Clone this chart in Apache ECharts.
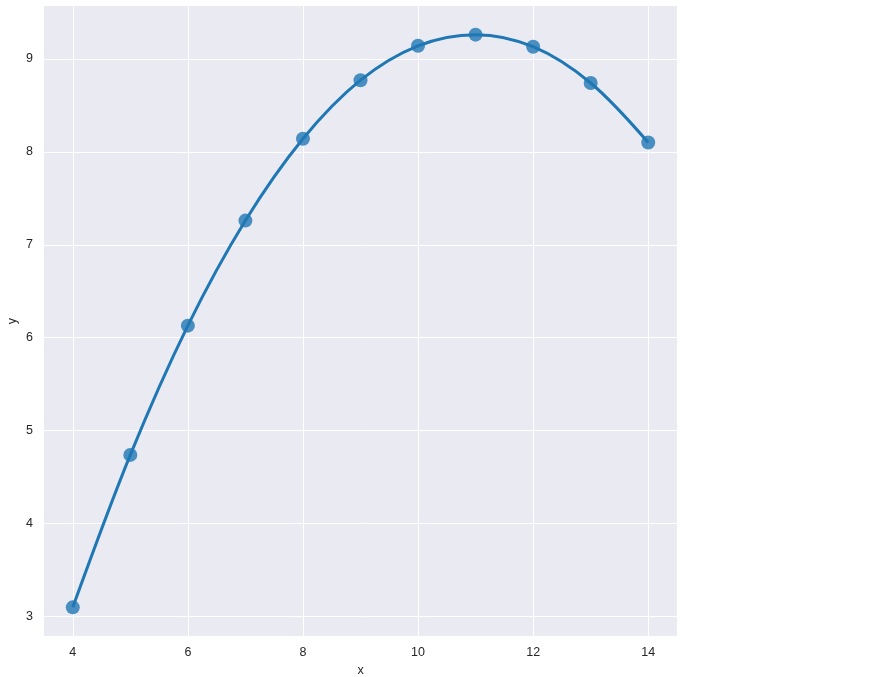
<!DOCTYPE html>
<html>
<head>
<meta charset="utf-8">
<script src="https://cdn.jsdelivr.net/npm/echarts@6/dist/echarts.min.js"></script>
<style>html,body{margin:0;padding:0;background:#fff;}#c{width:872px;height:677px;}</style>
</head>
<body>
<div id="c"></div>
<script>
const xValues = [4, 5, 6, 7, 8, 9, 10, 11, 12, 13, 14];
const yValues = [3.10, 4.74, 6.13, 7.26, 8.14, 8.77, 9.14, 9.26, 9.13, 8.74, 8.10];
const xTicks = [4, 6, 8, 10, 12, 14];
const yTicks = [3, 4, 5, 6, 7, 8, 9];

const pts = xValues.map((x, i) => [x, yValues[i]]);
const chart = echarts.init(document.getElementById('c'));
const font = 'Liberation Sans, Arial, sans-serif';
chart.setOption({
  animation: false,
  grid: {left: 44, top: 6, width: 633, height: 630, backgroundColor: '#eaeaf2', show: true, borderWidth: 0,
         containLabel: false, outerBoundsMode: 'none'},
  xAxis: {
    type: 'value', min: 3.5, max: 14.5,
    name: 'x', nameLocation: 'middle', nameGap: 27,
    nameTextStyle: {color: '#262626', fontSize: 12.5, fontFamily: font},
    axisLine: {show: false}, axisTick: {show: false, customValues: xTicks},
    axisLabel: {customValues: xTicks, color: '#262626', fontSize: 12.5, fontFamily: font, margin: 10},
    splitLine: {show: true, lineStyle: {color: '#ffffff', width: 1}}
  },
  yAxis: {
    type: 'value', min: 2.792, max: 9.568,
    name: 'y', nameLocation: 'middle', nameGap: 25, nameMoveOverlap: false,
    nameTextStyle: {color: '#262626', fontSize: 12.5, fontFamily: font},
    axisLine: {show: false}, axisTick: {show: false, customValues: yTicks},
    axisLabel: {customValues: yTicks, color: '#262626', fontSize: 12.5, fontFamily: font, margin: 11},
    splitLine: {show: true, lineStyle: {color: '#ffffff', width: 1}}
  },
  series: [
    {type: 'scatter', data: pts, symbolSize: 14, z: 2,
     itemStyle: {color: '#1f77b4', opacity: 0.8}},
    {type: 'line', data: pts, smooth: 0.33, showSymbol: false, z: 3,
     lineStyle: {color: '#1f77b4', width: 3}}
  ]
});
</script>
</body>
</html>
